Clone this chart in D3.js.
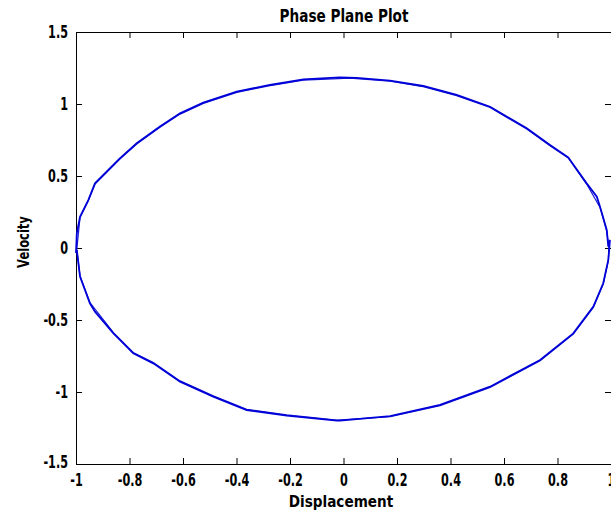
<!DOCTYPE html>
<html><head><meta charset="utf-8">
<script src="https://cdn.jsdelivr.net/npm/d3@7"></script>
<style>
body{margin:0;background:#fff;}
svg text{font-family:"DejaVu Sans","Liberation Sans",sans-serif;font-weight:bold;fill:#000;}
</style></head>
<body><svg id="c" width="611" height="516"></svg>
<script>
const title = "Phase Plane Plot";
const xLabel = "Displacement";
const yLabel = "Velocity";
const xTicks = [-1,-0.8,-0.6,-0.4,-0.2,0,0.2,0.4,0.6,0.8,1];
const yTicks = [-1.5,-1,-0.5,0,0.5,1,1.5];
const displacement = [-0.013,0.049,0.174,0.298,0.423,0.548,0.685,0.772,0.840,0.909,0.947,0.959,0.984,0.990,
  0.996,0.990,0.971,0.934,0.859,0.735,0.548,0.361,0.174,-0.013,
  -0.025,-0.212,-0.362,-0.487,-0.611,-0.711,-0.786,-0.860,-0.929,-0.948,-0.985,-0.997,
  -1.0,-0.997,-0.985,-0.954,-0.929,-0.836,-0.773,-0.686,-0.611,-0.524,-0.399,-0.275,-0.150,-0.013];
const velocity = [1.185,1.181,1.162,1.125,1.063,0.981,0.831,0.715,0.630,0.449,0.356,0.287,0.125,0.009,
  0.056,-0.083,-0.245,-0.407,-0.593,-0.778,-0.963,-1.090,-1.167,-1.199,
  -1.199,-1.164,-1.125,-1.032,-0.928,-0.801,-0.731,-0.593,-0.442,-0.384,-0.199,-0.014,
  -0.035,0.102,0.217,0.333,0.449,0.623,0.727,0.843,0.935,1.009,1.086,1.132,1.171,1.185];
// second pass of the trajectory (slightly offset trace)
const displacement2 = [0.024,0.174,0.298,0.423,0.548,0.685,0.772,0.840,0.909,0.959,0.984,0.992,0.990,0.971,0.934,0.859,0.735,0.548,0.361,0.174,-0.025,-0.212,-0.362,-0.487,-0.611,-0.711,-0.786,-0.860,-0.948,-0.985,-0.997,-0.985,-0.954,-0.929,-0.836,-0.773,-0.686,-0.611,-0.524,-0.399,-0.275,-0.150,0.024];
const velocity2 = [1.180,1.158,1.120,1.058,0.976,0.826,0.710,0.625,0.444,0.282,0.120,0.0,-0.088,-0.250,-0.412,-0.598,-0.783,-0.968,-1.095,-1.172,-1.195,-1.159,-1.120,-1.027,-0.923,-0.796,-0.726,-0.588,-0.379,-0.194,-0.009,0.212,0.328,0.444,0.618,0.722,0.838,0.930,1.004,1.081,1.127,1.166,1.180];

const svg = d3.select("#c");
const L = 76, R = 611, T = 32, B = 464;
const x = d3.scaleLinear().domain([-1,1]).range([L,R]);
const y = d3.scaleLinear().domain([-1.5,1.5]).range([B,T]);
const tl = 6;

function squeeze(sel, f){
  sel.each(function(){
    const n = this.getComputedTextLength();
    if(n>0){ d3.select(this).attr("textLength", n*f).attr("lengthAdjust","spacingAndGlyphs"); }
  });
}

// axes
const fmt = d => String(d);
const gx = svg.append("g").attr("transform",`translate(0,${B})`)
  .call(d3.axisBottom(x).tickValues(xTicks).tickFormat(fmt).tickSizeInner(-tl).tickSizeOuter(0).tickPadding(10));
const gxt = svg.append("g").attr("transform",`translate(0,${T})`)
  .call(d3.axisTop(x).tickValues(xTicks).tickFormat("").tickSizeInner(-tl).tickSizeOuter(0));
const gy = svg.append("g").attr("transform",`translate(${L},0)`)
  .call(d3.axisLeft(y).tickValues(yTicks).tickFormat(fmt).tickSizeInner(-tl).tickSizeOuter(0).tickPadding(8));
const gyr = svg.append("g").attr("transform",`translate(${R},0)`)
  .call(d3.axisRight(y).tickValues(yTicks).tickFormat("").tickSizeInner(-tl).tickSizeOuter(0));
svg.selectAll(".domain").attr("stroke","#000").attr("stroke-width",1);
svg.selectAll(".tick line").attr("stroke","#000");
svg.selectAll(".tick text").style("font-size","17px").style("font-family",null);
gx.selectAll(".tick text").attr("dy","0.71em");
gy.selectAll(".tick text").attr("dy",d => d === -1.5 ? "0.2em" : "0.34em");
squeeze(svg.selectAll(".tick text"), 0.66);

// data
const line = d3.line().x(d=>x(d[0])).y(d=>y(d[1]));
const pts = displacement.map((d,i)=>[d,velocity[i]]);
const pts2 = displacement2.map((d,i)=>[d,velocity2[i]]);
svg.append("path").datum(pts2).attr("d",line).attr("fill","none").attr("stroke","#1a1ad6").attr("stroke-width",1.2);
svg.append("path").datum(pts).attr("d",line).attr("fill","none").attr("stroke","#0000d8").attr("stroke-width",1.8);

// labels
const tt = svg.append("text").attr("x",344).attr("y",22).attr("text-anchor","middle").style("font-size","17px").text(title);
squeeze(tt, 0.8);
const xl = svg.append("text").attr("x",341).attr("y",507).attr("text-anchor","middle").style("font-size","16px").text(xLabel);
squeeze(xl, 0.85);
const yl = svg.append("text").attr("transform",`translate(29,${242}) rotate(-90)`).attr("text-anchor","middle").style("font-size","16px").text(yLabel);
squeeze(yl, 0.72);
</script></body></html>
